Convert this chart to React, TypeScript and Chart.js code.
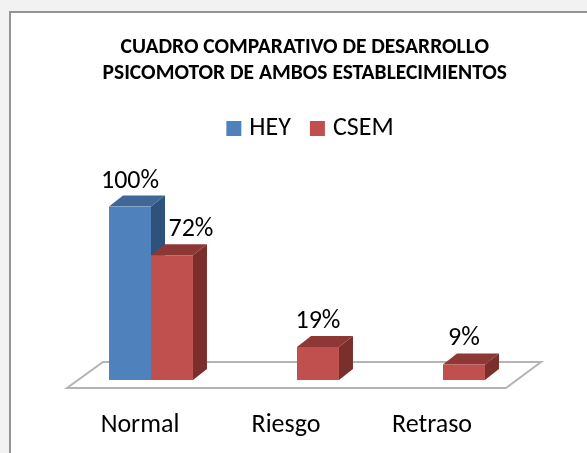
import React, { useEffect, useRef } from "react";
import { Chart, registerables } from "chart.js";

Chart.register(...registerables);

const categories = ["Normal", "Riesgo", "Retraso"];
const heyValues = [100, 0, 0];
const csemValues = [72, 19, 9];
const titleLines = ["CUADRO COMPARATIVO DE DESARROLLO", "PSICOMOTOR DE AMBOS ESTABLECIMIENTOS"];
const FONT = "Carlito, Lato, 'Open Sans', sans-serif";
const DX = 14;
const DY = 11;

const palette: Record<number, { top: string; side: string }> = {
  0: { top: "#3f6797", side: "#2f527c" },
  1: { top: "#8e3835", side: "#7b2f2d" },
};

const threeD = {
  id: "threeD",
  afterLayout(chart: any) {
    chart.titleBlock.left += 7.75;
    chart.titleBlock.right += 7.75;
    chart.legend.left += 15.5;
    chart.legend.right += 15.5;
    chart.legend.top -= 55;
    chart.legend.bottom -= 55;
  },
  beforeDatasetsDraw(chart: any) {
    const { ctx, chartArea, scales } = chart;
    const y0 = scales.y.getPixelForValue(0);
    const { left, right } = chartArea;
    ctx.save();
    ctx.strokeStyle = "#b4b4b4";
    ctx.lineWidth = 2;
    ctx.fillStyle = "#ffffff";
    ctx.beginPath();
    ctx.moveTo(left - 11, y0 + 8);
    ctx.lineTo(right - 10, y0 + 8);
    ctx.lineTo(right + 25, y0 - 18);
    ctx.lineTo(left + 25, y0 - 18);
    ctx.closePath();
    ctx.fill();
    ctx.stroke();
    ctx.restore();
    chart.data.datasets.forEach((ds: any, di: number) => {
      const colors = palette[di];
      chart.getDatasetMeta(di).data.forEach((bar: any, i: number) => {
        if (!ds.data[i]) return;
        const half = bar.width / 2;
        const l = bar.x - half;
        const r = bar.x + half;
        const t = bar.y;
        const b = bar.base;
        ctx.save();
        ctx.fillStyle = colors.top;
        ctx.beginPath();
        ctx.moveTo(l, t);
        ctx.lineTo(l + DX, t - DY);
        ctx.lineTo(r + DX, t - DY);
        ctx.lineTo(r, t);
        ctx.closePath();
        ctx.fill();
        ctx.fillStyle = colors.side;
        ctx.beginPath();
        ctx.moveTo(r, t);
        ctx.lineTo(r + DX, t - DY);
        ctx.lineTo(r + DX, b - DY);
        ctx.lineTo(r, b);
        ctx.closePath();
        ctx.fill();
        ctx.restore();
      });
    });
  },
  afterDraw(chart: any) {
    const { ctx } = chart;
    ctx.save();
    ctx.fillStyle = "#000";
    ctx.font = `26px ${FONT}`;
    ctx.textAlign = "center";
    ctx.textBaseline = "alphabetic";
    chart.data.datasets.forEach((ds: any, di: number) => {
      chart.getDatasetMeta(di).data.forEach((bar: any, i: number) => {
        const v = ds.data[i];
        if (!v) return;
        const shift = di === 1 && i === 0 ? 19 : 0;
        ctx.fillText(`${v}%`, bar.x + shift, bar.y - 19);
      });
    });
    ctx.restore();
  },
};

export default function App() {
  const ref = useRef<HTMLCanvasElement>(null);
  useEffect(() => {
    document.body.style.margin = "0";
    document.body.style.overflow = "hidden";
    document.body.style.background = "#f2f2f2";
    const chart = new Chart(ref.current!, {
      type: "bar",
      data: {
        labels: categories,
        datasets: [
          { label: "HEY", data: heyValues, backgroundColor: "#4f81bd" },
          { label: "CSEM", data: csemValues, backgroundColor: "#c0504d" },
        ],
      },
      options: {
        animation: false,
        responsive: false,
        categoryPercentage: 0.575,
        barPercentage: 1,
        layout: { padding: { left: 78, right: 71, top: 0, bottom: 0 } },
        plugins: {
          tooltip: { enabled: false },
          title: {
            display: true,
            text: titleLines,
            color: "#000",
            font: { family: FONT, size: 21.5, weight: "bold", lineHeight: 1.2 },
            padding: { top: 34.5, bottom: 60.5 },
          },
          legend: {
            display: true,
            position: "top",
            labels: {
              boxWidth: 5,
              boxHeight: 5,
              color: "#000",
              font: { family: FONT, size: 26 },
              padding: 24,
              generateLabels: (c: any) =>
                Chart.defaults.plugins.legend.labels
                  .generateLabels(c)
                  .map((item: any) => ({ ...item, lineWidth: 10, strokeStyle: item.fillStyle })),
            },
          },
        },
        scales: {
          x: {
            grid: { display: false },
            border: { display: false },
            afterFit: (scale: any) => {
              scale.height = 73;
            },
            ticks: { color: "#000", font: { family: FONT, size: 26 }, padding: 22, labelOffset: -11 },
          },
          y: { display: false, min: 0, max: 100 },
        },
      } as any,
      plugins: [threeD],
    });
    return () => chart.destroy();
  }, []);
  return (
    <div>
      <div
        style={{
          position: "absolute",
          left: 9,
          top: 11,
          width: 640,
          height: 500,
          border: "2px solid #949494",
          boxSizing: "border-box",
          background: "#fff",
        }}
      />
      <canvas
        ref={ref}
        width={587}
        height={453}
        style={{ position: "absolute", left: 0, top: 0, display: "block" }}
      />
    </div>
  );
}
